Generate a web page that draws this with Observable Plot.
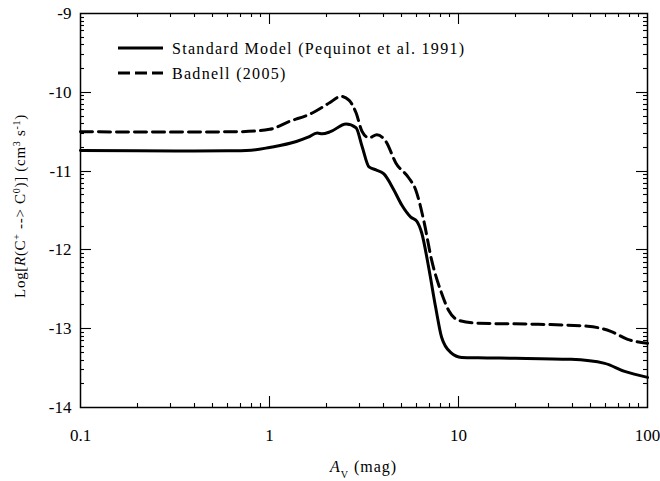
<!DOCTYPE html>
<html><head><meta charset="utf-8">
<script src="https://cdn.jsdelivr.net/npm/d3@7"></script>
<script src="https://cdn.jsdelivr.net/npm/@observablehq/plot@0.6"></script>
<style>body{margin:0;background:#fff}</style>
</head><body><div id="chart"></div>
<script>
// Data
const standardAv   = [0.1, 0.2, 0.4, 0.6, 0.8, 1.0, 1.387, 1.6, 1.789, 1.9, 2.1, 2.54, 2.87, 3.09, 3.36, 3.66, 4.03, 4.55, 5.01, 5.59, 6.01, 6.39, 6.95, 7.57, 8.14, 9.08, 10.4, 12.7, 20, 39.3, 59.4, 75.7, 100];
const standardLogR = [-10.74, -10.742, -10.745, -10.743, -10.735, -10.70, -10.625, -10.57, -10.518, -10.527, -10.50, -10.403, -10.45, -10.688, -10.947, -10.985, -11.036, -11.239, -11.43, -11.583, -11.634, -11.786, -12.219, -12.728, -13.109, -13.30, -13.364, -13.37, -13.375, -13.389, -13.44, -13.542, -13.618];
const badnellAv    = [0.1, 0.3, 0.7, 1.0, 1.274, 1.684, 2.07, 2.39, 2.64, 2.87, 3.09, 3.36, 3.70, 4.13, 4.66, 5.46, 5.94, 6.54, 7.21, 8.14, 8.86, 10.0, 12.7, 26.4, 48.3, 63.9, 78.5, 100];
const badnellLogR  = [-10.50, -10.505, -10.50, -10.47, -10.37, -10.263, -10.136, -10.052, -10.103, -10.26, -10.497, -10.578, -10.539, -10.625, -10.896, -11.087, -11.239, -11.621, -12.13, -12.55, -12.766, -12.893, -12.931, -12.944, -12.969, -13.033, -13.135, -13.186];
const xTickValues = [0.1, 1, 10, 100];
const xTickLabels = ["0.1", "1", "10", "100"];
const yTickValues = [-14, -13, -12, -11, -10, -9];
const yTickLabels = ["-14", "-13", "-12", "-11", "-10", "-9"];
const seriesNames = ["Standard Model (Pequinot et al. 1991)", "Badnell (2005)"];

const W = 660, H = 481;
const mL = 80, mR = 13, mT = 13, mB = 74;
const FONT = "Liberation Serif";
const xDomain = [0.1, 100], yDomain = [-14, -9];

const standard = standardAv.map((x, i) => ({x, y: standardLogR[i]}));
const badnell = badnellAv.map((x, i) => ({x, y: badnellLogR[i]}));

const xMinor = [];
for (const d of [0.1, 1, 10]) for (let k = 2; k <= 9; k++) xMinor.push(+(d * k).toPrecision(3));
const yMinor = [];
for (let n = -14; n < -9; n++) for (let k = 2; k <= 9; k++) yMinor.push(n + Math.log10(k));

const majLen = 11, minLen = 4;
const xFmt = d => xTickLabels[xTickValues.indexOf(d)] ?? "";
const yFmt = d => yTickLabels[yTickValues.indexOf(d)] ?? "";
const xMajorInner = xTickValues.slice(1, -1);
const yMajorInner = yTickValues.slice(1, -1);

const chart = Plot.plot({
  width: W, height: H,
  marginLeft: mL, marginRight: mR, marginTop: mT, marginBottom: mB,
  style: {fontFamily: FONT, fontSize: "16px", background: "#fff", color: "#000"},
  x: {type: "log", domain: xDomain},
  y: {domain: yDomain},
  marks: [
    Plot.axisX(xTickValues, {tickSize: 0, tickPadding: 21, tickFormat: xFmt, label: null, fontSize: 17}),
    Plot.axisY(yTickValues, {tickSize: 0, tickPadding: 9, tickFormat: yFmt, label: null, fontSize: 17}),
    Plot.line(badnell, {x: "x", y: "y", stroke: "#000", strokeWidth: 3, strokeDasharray: "12,6", curve: "monotone-x"}),
    Plot.line(standard, {x: "x", y: "y", stroke: "#000", strokeWidth: 3, curve: "monotone-x"}),
    Plot.frame({stroke: "#000", strokeWidth: 1.5})
  ]
});
document.getElementById("chart").appendChild(chart);

const svg = d3.select(chart);

// Inward frame ticks, positioned through the plot's own scales
const sx = chart.scale("x"), sy = chart.scale("y");
const fx = sx.apply ? v => sx.apply(v) : d3.scaleLog(sx.domain, sx.range);
const fy = sy.apply ? v => sy.apply(v) : d3.scaleLinear(sy.domain, sy.range);
const [x0, x1] = [fx(xDomain[0]), fx(xDomain[1])];
const [yB, yT] = [fy(yDomain[0]), fy(yDomain[1])];
const ticks = svg.append("g").attr("stroke", "#000").attr("stroke-width", 1.1);
const seg = (a, b, c, d) => ticks.append("line").attr("x1", a).attr("y1", b).attr("x2", c).attr("y2", d);
for (const [vals, len] of [[xMajorInner, majLen], [xMinor, minLen]]) {
  for (const v of vals) {
    const px = Math.round(fx(v)) + 0.5;
    seg(px, yB, px, yB - len);
    seg(px, yT, px, yT + len);
  }
}
for (const [vals, len] of [[yMajorInner, majLen], [yMinor, minLen]]) {
  for (const v of vals) {
    const py = Math.round(fy(v)) + 0.5;
    seg(x0, py, x0 + len, py);
    seg(x1, py, x1 - len, py);
  }
}

// Legend
const leg = svg.append("g").attr("font-family", FONT).attr("font-size", 16).attr("letter-spacing", "1.3px").attr("text-anchor", "start");
[[48, null], [73, "12,5"]].forEach(([y, dash], i) => {
  leg.append("line").attr("x1", 118).attr("x2", 163).attr("y1", y).attr("y2", y)
    .attr("stroke", "#000").attr("stroke-width", 3).attr("stroke-dasharray", dash);
  leg.append("text").attr("x", 172).attr("y", y + 5.5).text(seriesNames[i]);
});

// Y axis label
const yl = svg.append("text").attr("font-family", FONT).attr("font-size", 15).attr("letter-spacing", "0.7px")
  .attr("text-anchor", "middle").attr("transform", "translate(25,206) rotate(-90)");
const sup = (t) => yl.append("tspan").attr("baseline-shift", "super").attr("font-size", 10).text(t);
yl.append("tspan").text("Log[");
yl.append("tspan").attr("font-style", "italic").text("R");
yl.append("tspan").text("(C");
sup("+");
yl.append("tspan").text(" --> C");
sup("0");
yl.append("tspan").text(")] (cm");
sup("3");
yl.append("tspan").text(" s");
sup("-1");
yl.append("tspan").text(")");

// X axis label
const xl = svg.append("text").attr("font-family", FONT).attr("font-size", 16).attr("letter-spacing", "1px")
  .attr("text-anchor", "middle").attr("x", (mL + W - mR) / 2).attr("y", 472);
xl.append("tspan").attr("font-style", "italic").text("A");
xl.append("tspan").attr("baseline-shift", "sub").attr("font-size", 10).text("V");
xl.append("tspan").text(" (mag)");
</script></body></html>
